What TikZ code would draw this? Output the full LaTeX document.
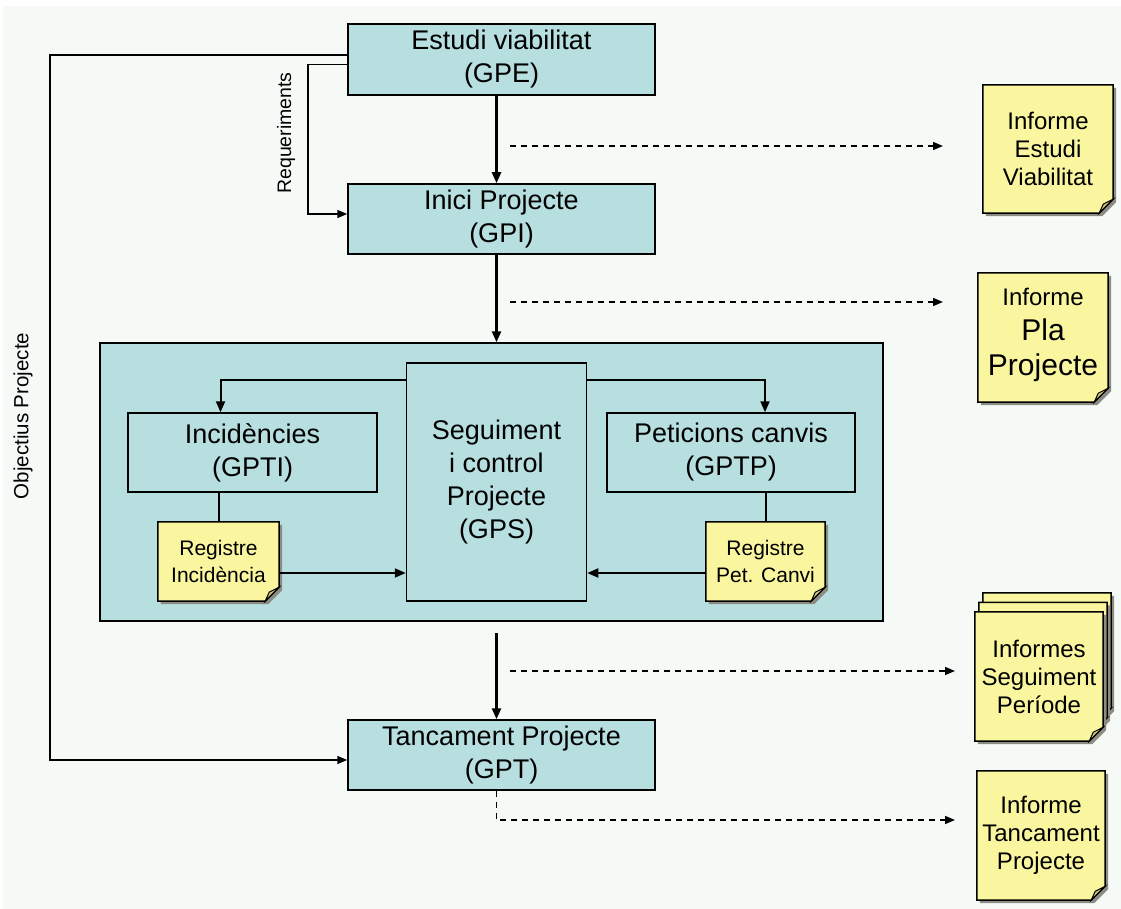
\documentclass[tikz,border=0pt]{standalone}
\usepackage{fontspec}
\setmainfont{Liberation Sans}
\usetikzlibrary{arrows.meta,calc}

\definecolor{canvas}{RGB}{245,250,247}
\definecolor{boxteal}{RGB}{183,223,224}
\definecolor{noteyellow}{RGB}{250,246,160}
\definecolor{notefoldc}{RGB}{200,194,120}
\definecolor{noteshadowc}{RGB}{140,140,130}

\pgfdeclarelayer{back}
\pgfdeclarelayer{paper}
\pgfsetlayers{back,paper,main}

% sheet of paper with dog-ear behind a note node (#2 = offset)
\newcommand{\notepaper}[2]{%
  \fill[noteshadowc] ($(#1.north west)+#2+(3,3)$) -- ($(#1.north east)+#2+(3,3)$)
    -- ($(#1.south east)+#2+(3,-11)$) -- ($(#1.south east)+#2+(-11,3)$)
    -- ($(#1.south west)+#2+(3,3)$) -- cycle;
  \filldraw[fill=noteyellow,draw=black,line width=1.5] ($(#1.north west)+#2$) -- ($(#1.north east)+#2$)
    -- ($(#1.south east)+#2+(0,-14)$) -- ($(#1.south east)+#2+(-14,0)$)
    -- ($(#1.south west)+#2$) -- cycle;
  \filldraw[fill=notefoldc,draw=black,line width=1] ($(#1.south east)+#2+(0,-14)$)
    -- ($(#1.south east)+#2+(-10,-9)$) -- ($(#1.south east)+#2+(-14,0)$) -- cycle;
}

\begin{document}
\begin{tikzpicture}[x=1pt,y=-1pt,
    box/.style={draw=black,line width=1.5,fill=boxteal,align=center,inner sep=0,
                font=\fontsize{27}{33}\selectfont},
    note/.style={align=center,inner sep=0,font=\fontsize{24}{28}\selectfont},
    smallnote/.style={align=center,inner sep=0,font=\fontsize{21}{27}\selectfont},
    flow/.style={line width=2.5,-{Triangle[length=11pt,width=9pt]}},
    link/.style={line width=2,-{Triangle[length=11pt,width=9pt]}},
    thin link/.style={line width=1.5,-{Triangle[length=10pt,width=8pt]}},
    report/.style={line width=1.5,dash pattern=on 6pt off 5pt,-{Triangle[length=10pt,width=8pt]}},
    sidelabel/.style={rotate=90,inner sep=0}]
    \useasboundingbox (0,0) rectangle (1121,909);

    % Canvas and the control frame
    \begin{pgfonlayer}{back}
        \fill[white] (0,0) rectangle (1121,909);
        \fill[canvas] (3,6) rectangle (1121,909);
        \node[draw=black,line width=1.5,fill=boxteal,minimum width=783,minimum height=278] (ctrl) at (491.5,482) {};
    \end{pgfonlayer}

    % Place the process boxes
    \node[box,minimum width=307,minimum height=71] (gpe) at (501.5,59.5) {Estudi viabilitat\\(GPE)};
    \node[box,minimum width=307,minimum height=70] (gpi) at (501.5,219) {Inici Projecte\\(GPI)};
    \node[box,minimum width=180,minimum height=238] (gps) at (496.5,482) {Seguiment\\i control\\Projecte\\(GPS)};
    \node[box,minimum width=249,minimum height=79] (gpti) at (252.5,452.5) {Incidències\\(GPTI)};
    \node[box,minimum width=248,minimum height=79] (gptp) at (731,452.5) {Peticions canvis\\(GPTP)};
    \node[box,minimum width=307,minimum height=70] (gpt) at (501.5,755) {Tancament Projecte\\(GPT)};

    % Place the notes
    \node[smallnote,minimum width=121,minimum height=79] (regi) at (218.5,561.5) {Registre\\Incidència};
    \node[smallnote,minimum width=119,minimum height=79] (regp) at (765.5,561.5) {Registre\\Pet. Canvi};
    \node[note,minimum width=130,minimum height=128] (infev) at (1048,149) {Informe\\Estudi\\Viabilitat};
    \node[note,minimum width=130,minimum height=129,font=\fontsize{30}{35}\selectfont] (infpla) at (1043,335)
        {{\fontsize{24}{28}\selectfont Informe}\\Pla\\Projecte};
    \node[note,minimum width=128,minimum height=129] (infseg) at (1039,676.5) {Informes\\Seguiment\\Període};
    \node[note,minimum width=128,minimum height=129] (inftan) at (1041,835.5) {Informe\\Tancament\\Projecte};

    \begin{pgfonlayer}{paper}
        \notepaper{regi}{(0,0)}
        \notepaper{regp}{(0,0)}
        \notepaper{infev}{(0,0)}
        \notepaper{infpla}{(0,2.5)}
        \notepaper{infseg}{(8,-19)}
        \notepaper{infseg}{(4,-9.5)}
        \notepaper{infseg}{(0,0)}
        \notepaper{inftan}{(0,0)}
    \end{pgfonlayer}

    % Side labels
    \node[sidelabel,font=\fontsize{19.5}{21}\selectfont] (req) at (286,133) {Requeriments};
    \node[sidelabel,font=\fontsize{20.5}{22}\selectfont] (obj) at (23,416) {Objectius Projecte};

    % Free ends of the report arrows
    \coordinate (r1a) at (510,146);
    \coordinate (r1b) at (943,146);
    \coordinate (r2a) at (510,302);
    \coordinate (r2b) at (943,302);
    \coordinate (r3a) at (510,671);
    \coordinate (r3b) at (955,671);
    \coordinate (r4b) at (955,820);

    % The lines!
    \draw[flow] (gpe.south -| gps.north) -- (gpi.north -| gps.north);
    \draw[flow] (gpi.south -| gps.north) -- (ctrl.north -| gps.north);
    \draw[flow] ($(ctrl.south -| gps.south)+(0,11)$) -- (gpt.north -| gps.south);
    \draw[report] (r1a) -- (r1b);
    \draw[report] (r2a) -- (r2b);
    \draw[report] (r3a) -- (r3b);
    \draw[report] (gpt.south -| gps.south) |- (r4b);

    \draw[thin link] ([shift={(0,-4.5)}]gpe.west) -| (50,760) -- ([shift={(0,5)}]gpt.west);
    \draw[thin link] ([shift={(0,5)}]gpe.west) -| (308,214) -- ([shift={(0,-5)}]gpi.west);

    \draw[link] ([shift={(0,18)}]gps.north west) -| ([shift={(-32,0)}]gpti.north);
    \draw[link] ([shift={(0,18)}]gps.north east) -| ([shift={(34,0)}]gptp.north);
    \draw[line width=2] (gpti.south -| regi.north) -- (regi.north);
    \draw[line width=2] (gptp.south -| regp.north) -- (regp.north);
    \draw[link] ([shift={(0,11.5)}]regi.east) -- ([shift={(0,11.5)}]regi.east -| gps.west);
    \draw[link] ([shift={(0,11.5)}]regp.west) -- ([shift={(0,11.5)}]regp.west -| gps.east);
\end{tikzpicture}
\end{document}
